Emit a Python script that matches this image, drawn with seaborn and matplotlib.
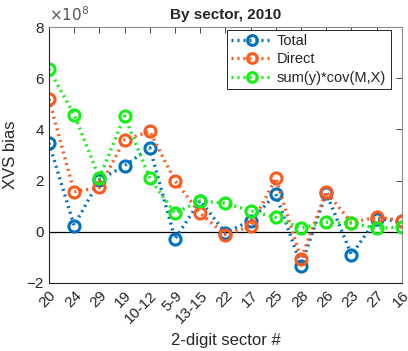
import matplotlib
matplotlib.use("Agg")
import matplotlib.pyplot as plt
import seaborn as sns
import pandas as pd
from matplotlib.lines import Line2D

sectors = ["20", "24", "29", "19", "10-12", "5-9", "13-15", "22", "17",
           "25", "28", "26", "23", "27", "16"]
total = [3.47, 0.24, 2.02, 2.58, 3.28, -0.28, 1.21, -0.04, 0.43,
         1.47, -1.32, 1.51, -0.90, 0.50, 0.41]
direct = [5.17, 1.56, 1.73, 3.59, 3.92, 1.99, 0.72, -0.11, 0.21,
          2.09, -1.06, 1.56, 0.36, 0.57, 0.43]
covterm = [6.35, 4.58, 2.10, 4.52, 2.09, 0.72, 1.21, 1.11, 0.82,
           0.56, 0.14, 0.37, 0.33, 0.14, 0.18]
series_names = ["Total", "Direct", "sum(y)*cov(M,X)"]
colors = ["#0072BD", "#FA5A1C", "#14F014"]

frames = []
for name, vals in zip(series_names, [total, direct, covterm]):
    frames.append(pd.DataFrame({"sector": sectors, "bias": vals, "series": name}))
df = pd.concat(frames, ignore_index=True)

sns.set_style("white")
plt.rcParams["font.family"] = ["Liberation Sans", "DejaVu Sans"]

fig = plt.figure(figsize=(4.08, 3.51), dpi=100)
ax = fig.add_axes([0.120, 0.194, 0.865, 0.729])

dots = (0, (0.6, 1.2))
sns.lineplot(data=df, x="sector", y="bias", hue="series", palette=colors,
             sort=False, marker="o", markersize=8, markeredgewidth=2.2,
             markerfacecolor="white", linewidth=2.4, ax=ax, legend=False)
for line, c in zip(ax.get_lines(), colors):
    line.set_linestyle(dots)
    line.set_dash_capstyle("butt")
    line.set_markeredgecolor(c)
    line.set_markerfacecolor("none")

ax.axhline(0, color="black", linewidth=0.9, zorder=1)

ax.set_xlim(0, len(sectors) - 1)
ax.set_ylim(-2, 8)
ax.set_yticks([-2, 0, 2, 4, 6, 8])
ax.set_xticks(range(len(sectors)))
ax.set_xticklabels(sectors, rotation=45, ha="right", rotation_mode="anchor")
ax.tick_params(axis="both", direction="in", length=4, width=0.6,
               labelsize=11, colors="#262626", top=True, right=True,
               labeltop=False, labelright=False)
ax.tick_params(axis="x", pad=4)
for side, sp in ax.spines.items():
    sp.set_linewidth(0.8)
    sp.set_color("#262626" if side in ("left", "bottom") else "#8c8c8c")

ax.set_title("By sector, 2010", fontsize=11, fontweight="bold", pad=6)
ax.set_ylabel("XVS bias", fontsize=12, color="#262626", labelpad=6)
ax.set_xlabel("2-digit sector #", fontsize=12, color="#262626", labelpad=5)
ax.text(0.0, 1.012, r"$\times10^{8}$", transform=ax.transAxes, fontsize=11,
        color="#555555", ha="left", va="bottom")

handles = [Line2D([], [], color=c, linestyle=dots, linewidth=2.4,
                  marker="o", markersize=7, markeredgewidth=2.2,
                  markerfacecolor="none", markeredgecolor=c)
           for c in colors]
leg = ax.legend(handles, series_names, loc="upper right", fontsize=10.5,
                frameon=True, fancybox=False, framealpha=1,
                edgecolor="#262626", handlelength=2.9, borderpad=0.3,
                labelspacing=0.3, handletextpad=0.25, borderaxespad=0,
                bbox_to_anchor=(0.968, 0.99))
leg.get_frame().set_linewidth(0.7)

fig.savefig("out.png", dpi=100)
